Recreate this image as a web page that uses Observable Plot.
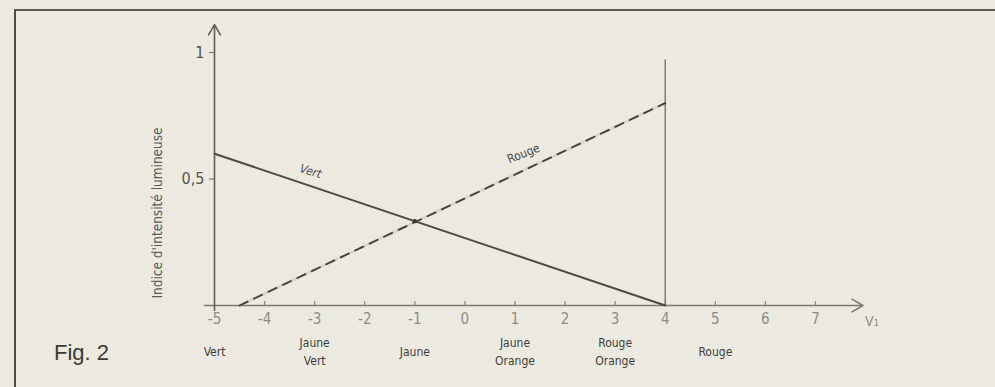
<!DOCTYPE html>
<html>
<head>
<meta charset="utf-8">
<script src="https://cdn.jsdelivr.net/npm/d3@7"></script>
<script src="https://cdn.jsdelivr.net/npm/@observablehq/plot@0.6"></script>
<style>
  html, body { margin: 0; padding: 0; background: #ece9e1; }
  #page { position: relative; width: 995px; height: 387px; overflow: hidden; background: #ece9e1; }
  #frame { position: absolute; left: 14px; top: 9px; right: -4px; bottom: -4px;
           border-left: 2px solid #4d4d47; border-top: 2px solid #5a5a54; }
  #chart { position: absolute; left: 0; top: 0; }
  #fig { position: absolute; left: 54px; top: 340px; font-family: "Liberation Sans", Arial, sans-serif;
         font-size: 22px; color: #3a3a36; }
</style>
</head>
<body>
<div id="page">
  <div id="frame"></div>
  <div id="chart"></div>
  <div id="fig">Fig. 2</div>
</div>
<script>
// ---- data ----
const xTicks = [-5, -4, -3, -2, -1, 0, 1, 2, 3, 4, 5, 6, 7];
const yTicks = [0.5, 1];
const yTickLabels = ["0,5", "1"];
const categoryX = [-5, -3, -1, 1, 3, 5];
const categoryLabels = ["Vert", "Jaune\nVert", "Jaune", "Jaune\nOrange", "Rouge\nOrange", "Rouge"];
const vertX = [-5, 4];
const vertY = [0.6, 0];
const rougeX = [-4.5, 4];
const rougeY = [0, 0.8];
const crossX = [-1];
const crossY = [1 / 3];
const markerX = [4];
const markerTop = [0.97];
const xAxisExtent = [-5.2, 7.95];
const yAxisExtent = [-0.02, 1.11];
const yAxisTitle = "Indice d'intensité lumineuse";

const vert = vertX.map((x, i) => ({x, y: vertY[i]}));
const rouge = rougeX.map((x, i) => ({x, y: rougeY[i]}));
const cats = categoryX.map((x, i) => ({x, label: categoryLabels[i]}));
const yt = yTicks.map((y, i) => ({y, label: yTickLabels[i]}));

const FONT = '"DejaVu Sans Condensed", "Liberation Sans Narrow", "DejaVu Sans", sans-serif';

const chart = Plot.plot({
  width: 995,
  height: 387,
  marginLeft: 214,
  marginRight: 180,
  marginTop: 52,
  marginBottom: 82,
  axis: null,
  x: {domain: [-5, 7]},
  y: {domain: [0, 1]},
  style: {background: "transparent", fontFamily: FONT, overflow: "visible"},
  marks: [
    // axes with arrows
    Plot.arrow([0], {x1: xAxisExtent[0], x2: xAxisExtent[1], y1: 0, y2: 0,
      stroke: "#7b7b72", strokeWidth: 1.6, headLength: 12, bend: 0}),
    Plot.arrow([0], {x1: -5, x2: -5, y1: yAxisExtent[0], y2: yAxisExtent[1],
      stroke: "#5e5e57", strokeWidth: 1.6, headLength: 11, bend: 0}),
    // x tick marks
    Plot.ruleX(xTicks.filter(d => d !== -5), {y1: 0, y2: 0.016, stroke: "#8a8a82", strokeWidth: 1.2}),
    // x tick labels
    Plot.axisX({ticks: xTicks, tickSize: 0, tickPadding: 8, fontSize: 15, color: "#8c8c86",
      tickFormat: d => String(d), label: null}),
    // y tick marks and labels
    Plot.ruleY(yTicks, {x1: -5.1, x2: -5, stroke: "#7a7a72", strokeWidth: 1.2}),
    Plot.text(yt, {x: -5, y: "y", text: "label", textAnchor: "end", dx: -10, fontSize: 16, fill: "#55554f"}),
    // y axis title
    Plot.text([yAxisTitle], {frameAnchor: "left", textAnchor: "middle", rotate: -90, dx: -57, dy: 34,
      fontSize: 13.5, fill: "#5a5a54"}),
    // vertical marker at 4
    Plot.ruleX(markerX, {y1: 0, y2: markerTop[0], stroke: "#7c7c74", strokeWidth: 1.5}),
    // Rouge (dashed)
    Plot.line(rouge, {x: "x", y: "y", stroke: "#c9a9a6", strokeWidth: 3, strokeOpacity: 0.35}),
    Plot.line(rouge, {x: "x", y: "y", stroke: "#3f3f3a", strokeWidth: 1.8, strokeDasharray: "9,7"}),
    // Vert (solid)
    Plot.line(vert, {x: "x", y: "y", stroke: "#4b4b45", strokeWidth: 2}),
    // intersection blob
    Plot.dot(crossX.map((x, i) => ({x, y: crossY[i]})), {x: "x", y: "y", r: 2.2, fill: "#3a3a35"}),
    // line labels
    Plot.text(["Vert"], {x: -3.08, y: 0.53, text: d => d, rotate: 16, fontSize: 12,
      fontStyle: "italic", fill: "#4a4a44"}),
    Plot.text(["Rouge"], {x: 1.17, y: 0.6, text: d => d, rotate: -22, fontSize: 12,
      fill: "#4a4a44"}),
    // V1 label
    Plot.text(["V₁"], {x: xAxisExtent[1], y: 0, text: d => d, textAnchor: "start", dx: 2, dy: 16,
      fontSize: 14, fill: "#8a8a84"}),
    // colour names under the axis
    Plot.text(cats, {x: "x", y: 0, text: "label", dy: 45, fontSize: 12, lineHeight: 1.45,
      lineAnchor: "middle", fill: "#3e3e39"})
  ]
});
document.getElementById("chart").appendChild(chart);
</script>
</body>
</html>
